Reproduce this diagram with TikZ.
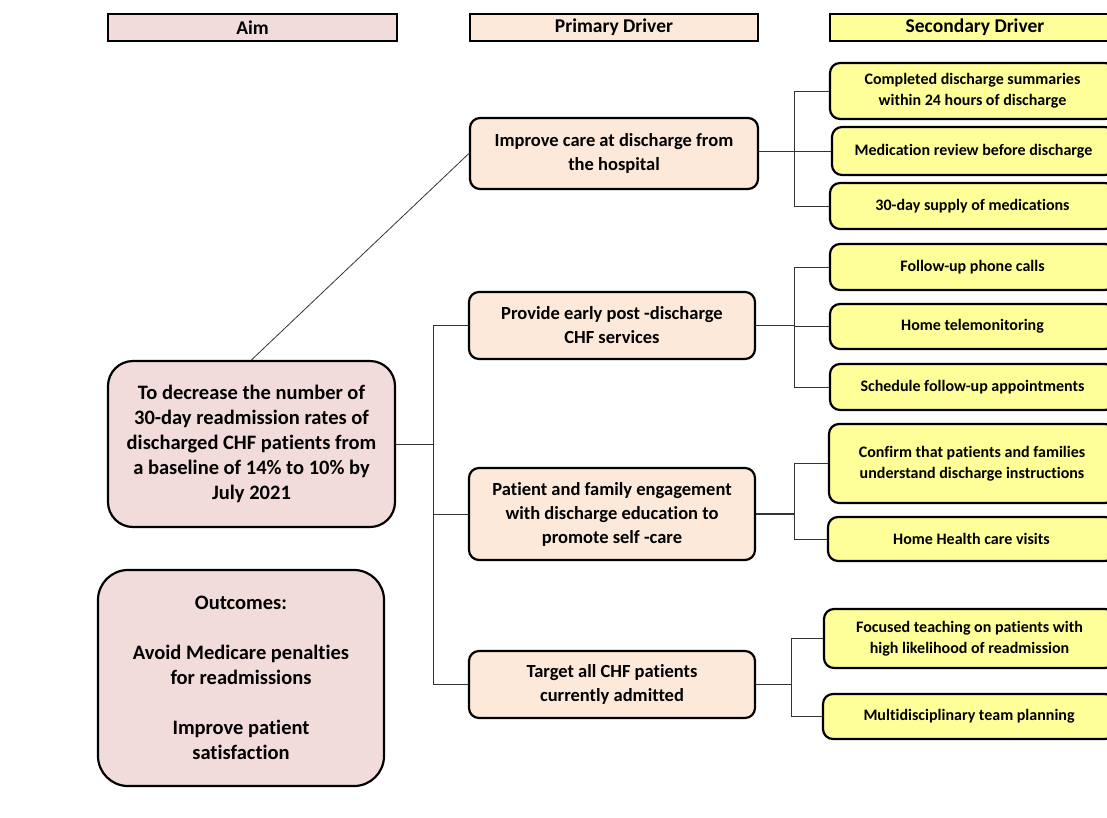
\documentclass[tikz,border=0pt]{standalone}
\usepackage{fontspec}
\setmainfont{Carlito}[Ligatures=NoCommon]
\usetikzlibrary{calc}

\definecolor{aimpink}{HTML}{F2DCDB}
\definecolor{primpeach}{HTML}{FDE9D9}
\definecolor{secyellow}{HTML}{FFFF99}

\begin{document}
\begin{tikzpicture}[x=1pt,y=-1pt]

	\useasboundingbox (0,0) rectangle (1107,817);

	\tikzset{head/.style={draw,line width=1.4pt,minimum height=27pt,inner sep=0pt,font=\fontsize{19.5}{22}\selectfont\bfseries}}
	\tikzset{box/.style={draw,line width=2.2pt,rounded corners=10pt,inner sep=0pt,align=center,font=\fontsize{18.5}{24}\selectfont\bfseries}}
	\tikzset{prim/.style={box,fill=primpeach,minimum width=286pt}}
	\tikzset{sec/.style={box,fill=secyellow,minimum width=285pt,font=\fontsize{16}{21}\selectfont\bfseries}}
	\tikzset{link/.style={draw=black!80,line width=0.8pt}}

	% headings

	\node[head,fill=aimpink,minimum width=289pt] (haim) at (252.5,27.5) {Aim};
	\node[head,fill=primpeach,minimum width=288pt] (hprim) at (614,27.5) {Primary Driver};
	\node[head,fill=secyellow,minimum width=290pt] (hsec) at (975,27.5) {Secondary Driver};

	% aim and outcomes

	\node[box,fill=aimpink,rounded corners=25pt,minimum width=287pt,minimum height=166pt,font=\fontsize{20.5}{25}\selectfont\bfseries] (aim) at (251.5,444)
		{To decrease the number of\\30-day readmission rates of\\discharged CHF patients from\\a baseline of 14\% to 10\% by\\July 2021};

	\node[box,fill=aimpink,rounded corners=30pt,minimum width=286pt,minimum height=216pt,font=\fontsize{20.5}{25.5}\selectfont\bfseries] (outc) at (241,678)
		{Outcomes:\\[24pt]Avoid Medicare penalties\\for readmissions\\[24pt]Improve patient\\satisfaction};

	% primary drivers

	\node[prim,minimum width=288pt,minimum height=71pt] (p1) at (614,153.5) {Improve care at discharge from\\the hospital};
	\node[prim,minimum height=67pt] (p2) at (612,325.5) {Provide early post -discharge\\CHF services};
	\node[prim,minimum height=92pt] (p3) at (612,514) {Patient and family engagement\\with discharge education to\\promote self -care};
	\node[prim,minimum height=67pt] (p4) at (612,684.5) {Target all CHF patients\\currently admitted};

	% secondary drivers

	\node[sec,minimum height=56pt] (s1) at (972.5,91) {Completed discharge summaries\\within 24 hours of discharge};
	\node[sec,minimum width=283pt,minimum height=48pt] (s2) at (973.5,151) {Medication review before discharge};
	\node[sec,minimum height=46pt] (s3) at (972.5,206) {30-day supply of medications};

	\node[sec,minimum height=46pt] (s4) at (972.5,267) {Follow-up phone calls};
	\node[sec,minimum height=45pt] (s5) at (972.5,326.5) {Home telemonitoring};
	\node[sec,minimum height=46pt] (s6) at (972.5,387) {Schedule follow-up appointments};

	\node[sec,minimum width=286pt,minimum height=79pt] (s7) at (972,463.5) {Confirm that patients and families\\understand discharge instructions};
	\node[sec,minimum width=287pt,minimum height=44pt] (s8) at (971.5,539) {Home Health care visits};

	\node[sec,minimum width=291pt,minimum height=59pt] (s9) at (969.5,638.5) {Focused teaching on patients with\\high likelihood of readmission};
	\node[sec,minimum width=292pt,minimum height=45pt] (s10) at (969,716.5) {Multidisciplinary team planning};

	% connectors aim -> primary

	\draw[link] (aim.north) -- (p1.west);
	\coordinate (ba) at ($(aim.east)+(37,0)$);
	\draw[link] (aim.east) -- (ba);
	\draw[link] (p2.west) -| (ba) |- (p4.west);
	\draw[link] (ba |- p3.west) -- (p3.west);

	% connectors primary -> secondary

	\coordinate (b1) at ($(p1.east |- s2.west)+(35,0)$);
	\draw[link] (p1.east |- s2.west) -- (s2.west);
	\draw[link] (s1.west) -| (b1) |- (s3.west);

	\coordinate (b2) at ($(p2.east)+(38,0)$);
	\draw[link] (p2.east) -- (b2);
	\draw[link] (s4.west) -| (b2) |- (s6.west);
	\draw[link] (b2 |- s5.west) -- (s5.west);

	\coordinate (b3) at ($(p3.east)+(38,0)$);
	\draw[link,line width=2pt] (p3.east) -- (b3);
	\draw[link] (s7.west) -| (b3) |- (s8.west);

	\coordinate (b4) at ($(p4.east)+(35,0)$);
	\draw[link] (p4.east) -- (b4);
	\draw[link] (s9.west) -| (b4) |- (s10.west);

\end{tikzpicture}
\end{document}
